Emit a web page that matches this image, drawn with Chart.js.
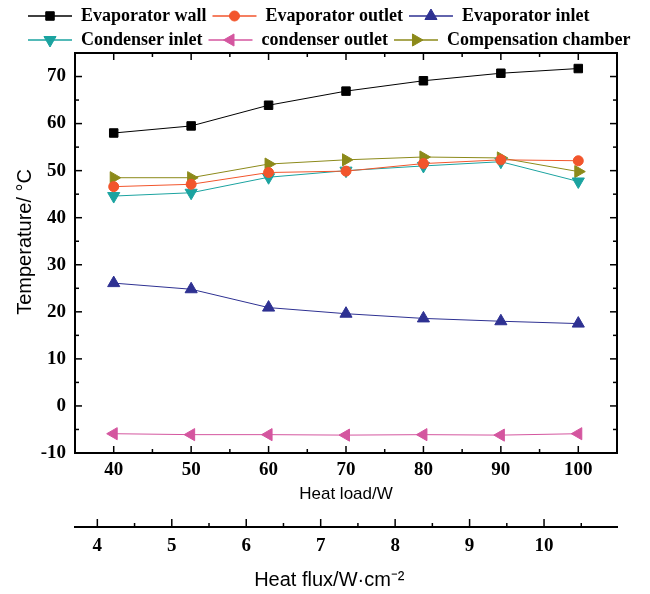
<!DOCTYPE html>
<html>
<head>
<meta charset="utf-8">
<script src="https://cdn.jsdelivr.net/npm/chart.js@4.4.1/dist/chart.umd.min.js"></script>
<style>
  html, body { margin: 0; padding: 0; background: #fff; }
  #wrap { width: 650px; height: 594px; position: relative; }
</style>
</head>
<body>
<div id="wrap"><canvas id="myChart"></canvas></div>
<script>
const heatLoad = [40, 50, 60, 70, 80, 90, 100]
const evapWall = [58.0, 59.5, 63.9, 66.9, 69.1, 70.7, 71.7]
const evapOutlet = [46.6, 47.1, 49.6, 49.9, 51.5, 52.3, 52.1]
const evapInlet = [26.1, 24.8, 20.9, 19.6, 18.6, 18.0, 17.5]
const condInlet = [44.6, 45.3, 48.6, 50.0, 51.0, 51.9, 47.7]
const condOutlet = [-5.9, -6.1, -6.1, -6.2, -6.1, -6.2, -5.9]
const compChamber = [48.5, 48.5, 51.4, 52.3, 52.9, 52.7, 49.8]

const loadTicks = [40, 50, 60, 70, 80, 90, 100]
const loadMinor = [45, 55, 65, 75, 85, 95]
const tempTicks = [-10, 0, 10, 20, 30, 40, 50, 60, 70]
const tempMinor = [-5, 5, 15, 25, 35, 45, 55, 65]
const fluxTicks = [4, 5, 6, 7, 8, 9, 10]
const fluxMinor = [4.5, 5.5, 6.5, 7.5, 8.5, 9.5, 10.5]

const serif = "'Liberation Serif', 'Times New Roman', serif"
const sans = "'Liberation Sans', Arial, sans-serif"

const series = [
  { label: 'Evaporator wall', values: evapWall, color: '#000000', style: 'rect', rot: 0, r: 6 },
  { label: 'Evaporator outlet', values: evapOutlet, color: '#f2552c', style: 'circle', rot: 0, r: 5 },
  { label: 'Evaporator inlet', values: evapInlet, color: '#2e3192', style: 'triangle', rot: 0, r: 7 },
  { label: 'Condenser inlet', values: condInlet, color: '#1ba3a0', style: 'triangle', rot: 180, r: 7 },
  { label: 'condenser outlet', values: condOutlet, color: '#d4569f', style: 'triangle', rot: -90, r: 7 },
  { label: 'Compensation chamber', values: compChamber, color: '#8c8a1a', style: 'triangle', rot: 90, r: 7 }
]

// inward ticks + box frame, positions come from the chart scales
const frame = {
  id: 'frame',
  afterDatasetsDraw(chart) {
    const { ctx, chartArea: a, scales } = chart
    const line = (x1, y1, x2, y2) => { ctx.beginPath(); ctx.moveTo(x1, y1); ctx.lineTo(x2, y2); ctx.stroke() }
    ctx.save()
    ctx.strokeStyle = '#000'
    ctx.lineWidth = 1.5
    ;[[loadTicks, 7], [loadMinor, 4]].forEach(([vals, len]) => vals.forEach(v => {
      const px = scales.x.getPixelForValue(v)
      line(px, a.bottom, px, a.bottom - len)
      line(px, a.top, px, a.top + len)
    }))
    ;[[tempTicks, 7], [tempMinor, 4]].forEach(([vals, len]) => vals.forEach(v => {
      const py = scales.y.getPixelForValue(v)
      line(a.left, py, a.left + len, py)
      line(a.right, py, a.right - len, py)
    }))
    const f = scales.x2
    ;[[fluxTicks, 8], [fluxMinor, 4]].forEach(([vals, len]) => vals.forEach(v => {
      const px = f.getPixelForValue(v)
      line(px, f.top, px, f.top - len)
    }))
    ctx.lineWidth = 2
    ctx.strokeRect(a.left, a.top, a.right - a.left, a.bottom - a.top)
    ctx.restore()
  }
}

// legend: thin line from the library legend, marker drawn on top of it
const legendMarks = {
  id: 'legendMarks',
  beforeInit(chart) {
    const fit = chart.legend.fit
    chart.legend.fit = function () { fit.call(this); this.height = 52 }
  },
  afterDraw(chart) {
    const ctx = chart.ctx
    chart.legend.legendHitBoxes.forEach((box, i) => {
      const d = chart.data.datasets[i]
      ctx.save()
      ctx.fillStyle = d.pointBackgroundColor
      ctx.strokeStyle = d.pointBorderColor
      ctx.lineWidth = d.pointBorderWidth
      Chart.helpers.drawPoint(ctx, {
        pointStyle: d.pointStyle, rotation: d.pointRotation,
        radius: d.pointRadius, borderWidth: d.pointBorderWidth
      }, box.left + 22, box.top + box.height / 2)
      ctx.restore()
    })
  }
}

const ctx = document.getElementById('myChart')
new Chart(ctx, {
  type: 'line',
  data: {
    datasets: series.map(s => ({
      label: s.label,
      data: heatLoad.map((x, i) => ({ x: x, y: s.values[i] })),
      borderColor: s.color,
      backgroundColor: s.color,
      borderWidth: 1,
      pointStyle: s.style,
      pointRotation: s.rot,
      pointRadius: s.r,
      pointHoverRadius: s.r,
      pointBackgroundColor: s.color,
      pointBorderColor: s.color,
      pointBorderWidth: 1,
      tension: 0,
      xAxisID: 'x',
      yAxisID: 'y'
    }))
  },
  options: {
    responsive: true,
    maintainAspectRatio: false,
    animation: false,
    devicePixelRatio: 1,
    layout: { padding: { left: 22, top: 1, right: 0, bottom: 0 } },
    plugins: {
      tooltip: { enabled: false },
      legend: {
        position: 'top',
        align: 'start',
        labels: {
          boxWidth: 44,
          boxHeight: 1.5,
          padding: 6,
          color: '#000',
          font: { family: serif, size: 18, weight: 'bold' },
          generateLabels: chart => chart.data.datasets.map((d, i) => ({
            text: d.label,
            fillStyle: d.borderColor,
            strokeStyle: d.borderColor,
            lineWidth: 0,
            hidden: false,
            datasetIndex: i,
            fontColor: '#000'
          }))
        }
      }
    },
    scales: {
      x: {
        type: 'linear',
        position: 'bottom',
        weight: 0,
        min: 35,
        max: 105,
        afterBuildTicks: s => { s.ticks = loadTicks.map(v => ({ value: v })) },
        afterFit: s => { s.height = 74 },
        grid: { display: false, drawTicks: false },
        border: { display: false },
        ticks: { padding: 6, color: '#000', maxRotation: 0, font: { family: serif, size: 19, weight: 'bold' } },
        title: { display: true, text: 'Heat load/W', color: '#000', font: { family: sans, size: 17 }, padding: { top: 3, bottom: 22 } }
      },
      x2: {
        type: 'linear',
        position: 'bottom',
        weight: 1,
        min: 3.70,
        max: 10.98,
        afterBuildTicks: s => { s.ticks = fluxTicks.map(v => ({ value: v })) },
        afterFit: s => { s.height = 67 },
        grid: { display: false, drawTicks: false },
        border: { display: true, color: '#000', width: 2 },
        ticks: { padding: 8, color: '#000', maxRotation: 0, font: { family: serif, size: 19, weight: 'bold' } },
        title: { display: true, text: 'Heat flux/W·cm⁻²      ', color: '#000', font: { family: sans, size: 20 }, padding: { top: 0, bottom: 2 } }
      },
      y: {
        type: 'linear',
        position: 'left',
        min: -10,
        max: 75,
        afterBuildTicks: s => { s.ticks = tempTicks.map(v => ({ value: v })) },
        afterFit: s => { s.width = 53 },
        grid: { display: false, drawTicks: false },
        border: { display: false },
        ticks: { padding: 9, color: '#000', font: { family: serif, size: 19, weight: 'bold' } },
        title: { display: true, text: '    Temperature/ °C', color: '#000', font: { family: sans, size: 20 }, padding: { top: -9, bottom: 0 } }
      },
      yR: {
        type: 'linear',
        position: 'right',
        min: -10,
        max: 75,
        afterFit: s => { s.width = 33 },
        grid: { display: false, drawTicks: false },
        border: { display: false },
        ticks: { display: false }
      }
    }
  },
  plugins: [frame, legendMarks]
})
</script>
</body>
</html>
